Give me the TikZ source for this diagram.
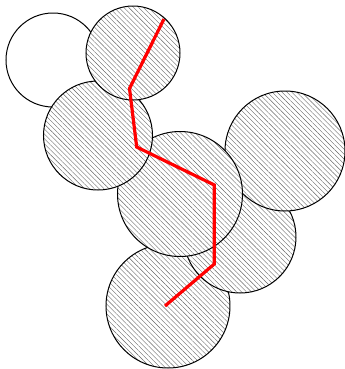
\documentclass[tikz,border=0pt]{standalone}
\usetikzlibrary{patterns.meta}
\begin{document}
\begin{tikzpicture}[x=0.75pt, y=-0.75pt,
    disc/.style={draw=black, line width=0.75pt},
    hatched/.style={disc, preaction={fill=white},
        pattern={Lines[angle=-45, distance=2.6pt, line width=0.3pt]}, pattern color=black!60},
    route/.style={red, line width=2.4pt, line join=miter}]
    \useasboundingbox (0,0) rectangle (345,369);

    % 1. centres of the discs
    \path (53,60)    coordinate (C1)
          (133,53)   coordinate (C2)
          (98,135.5) coordinate (C3)
          (285,151)  coordinate (C4)
          (240,237)  coordinate (C5)
          (180,194)  coordinate (C6)
          (168,306)  coordinate (C7);

    % 2. corners of the red route
    \path (164,19)  coordinate (R1)
          (129.5,88.5) coordinate (R2)
          (136.7,147) coordinate (R3)
          (214.3,185) coordinate (R4)
          (214.3,264) coordinate (R5)
          (165,306) coordinate (R6);

    % 3. the empty disc
    \draw[disc] (C1) circle (47);

    % 4. hatched discs, back to front
    \draw[hatched] (C7) circle (62);
    \draw[hatched] (C5) circle (56);
    \draw[hatched] (C4) circle (60);
    \draw[hatched] (C6) circle (62.5);
    \draw[hatched] (C3) circle (54.5);
    \draw[hatched] (C2) circle (47);

    % 5. the route
    \draw[route] (R1) -- (R2) -- (R3) -- (R4) -- (R5) -- (R6);
\end{tikzpicture}
\end{document}
